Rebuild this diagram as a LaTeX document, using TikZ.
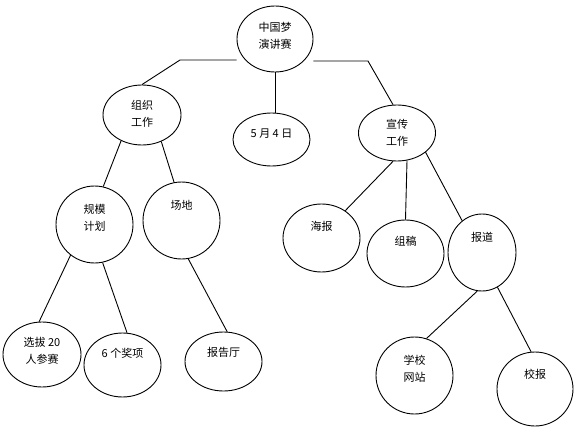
\documentclass[tikz,border=0pt]{standalone}
\usepackage{fontspec}
\newfontfamily\zhfont{Noto Sans CJK SC}
\usetikzlibrary{
	positioning,
	shapes.geometric
}

\begin{document}
\begin{tikzpicture}[
	x=1pt,
	y=-1pt,
	bubble/.style={draw, ellipse, line width=0.9pt, inner sep=0pt},
	word/.style={font=\zhfont\fontsize{11}{17}\selectfont, align=center},
	link/.style={line width=0.9pt}
	]
	
	\useasboundingbox (0,0) rectangle (581,433);
	
	\node[
	bubble,
	minimum width=76pt,
	minimum height=66pt,
	label={[word,yshift=3.5pt]center:中国梦\\演讲赛}
	]
	(root) at (275,39) {};
	
	\node[
	bubble,
	minimum width=78pt,
	minimum height=60pt,
	label={[word,yshift=1.3pt]center:组织\\工作}
	]
	(org) at (142,115) {};
	
	\node[
	bubble,
	minimum width=77pt,
	minimum height=53pt,
	label={[word,yshift=5.5pt]center:5 月 4 日}
	]
	(may) at (271.5,139.5) {};
	
	\node[
	bubble,
	minimum width=77pt,
	minimum height=56pt,
	label={[word]center:宣传\\工作}
	]
	(pub) at (397,133) {};
	
	\node[
	bubble,
	minimum width=77pt,
	minimum height=77pt,
	label={[word,yshift=7pt]center:规模\\计划}
	]
	(plan) at (94.5,224.5) {};
	
	\node[
	bubble,
	minimum width=77pt,
	minimum height=77pt,
	label={[word,yshift=15.5pt]center:场地}
	]
	(venue) at (181.5,220.5) {};
	
	\node[
	bubble,
	minimum width=78pt,
	minimum height=65pt,
	label={[word,yshift=3.5pt]center:选拔 20\\人参赛}
	]
	(pick) at (42,354.5) {};
	
	\node[
	bubble,
	minimum width=77pt,
	minimum height=64pt,
	label={[word,yshift=12pt]center:6 个奖项}
	]
	(prize) at (122.5,365) {};
	
	\node[
	bubble,
	minimum width=77pt,
	minimum height=59pt,
	label={[word,yshift=9.5pt]center:报告厅}
	]
	(hall) at (223.5,361.5) {};
	
	\node[
	bubble,
	minimum width=77pt,
	minimum height=68pt,
	label={[word,yshift=12pt]center:海报}
	]
	(poster) at (321.5,238) {};
	
	\node[
	bubble,
	minimum width=77pt,
	minimum height=67pt,
	label={[word,yshift=12.5pt]center:组稿}
	]
	(draft) at (405.5,253.5) {};
	
	\node[
	bubble,
	minimum width=68pt,
	minimum height=77pt,
	label={[word,yshift=15.5pt]center:报道}
	]
	(report) at (482,252.5) {};
	
	\node[
	bubble,
	minimum width=77pt,
	minimum height=77pt,
	label={[word,yshift=7pt]center:学校\\网站}
	]
	(site) at (414.5,375.5) {};
	
	\node[
	bubble,
	minimum width=76pt,
	minimum height=74pt,
	label={[word,yshift=15pt]center:校报}
	]
	(paper) at (535,389) {};
	
	\coordinate (kneeL) at (180,60);
	\coordinate (kneeR) at (368,61);
	
	\draw[link] (root.west |- kneeL) -- (kneeL) -- (org.north);
	\draw[link] (root.east |- kneeR) -- (kneeR) -- (pub.98);
	\draw[link] (root.south) -- (root.south |- may.north);
	
	\draw[link] (org.231) -- (plan.77);
	\draw[link] (org.306) -- (venue.101);
	\draw[link] (plan.232) -- (pick.95);
	\draw[link] (plan.282) -- (prize.82);
	\draw[link] (venue.280) -- (hall.83);
	
	\draw[link] (pub.262) -- (poster.49);
	\draw[link] (pub.290) -- (draft.north);
	\draw[link] (pub.326) -- (report.122);
	\draw[link] (report.263) -- (site.72);
	\draw[link] (report.294) -- (paper.96);
	
\end{tikzpicture}
\end{document}
